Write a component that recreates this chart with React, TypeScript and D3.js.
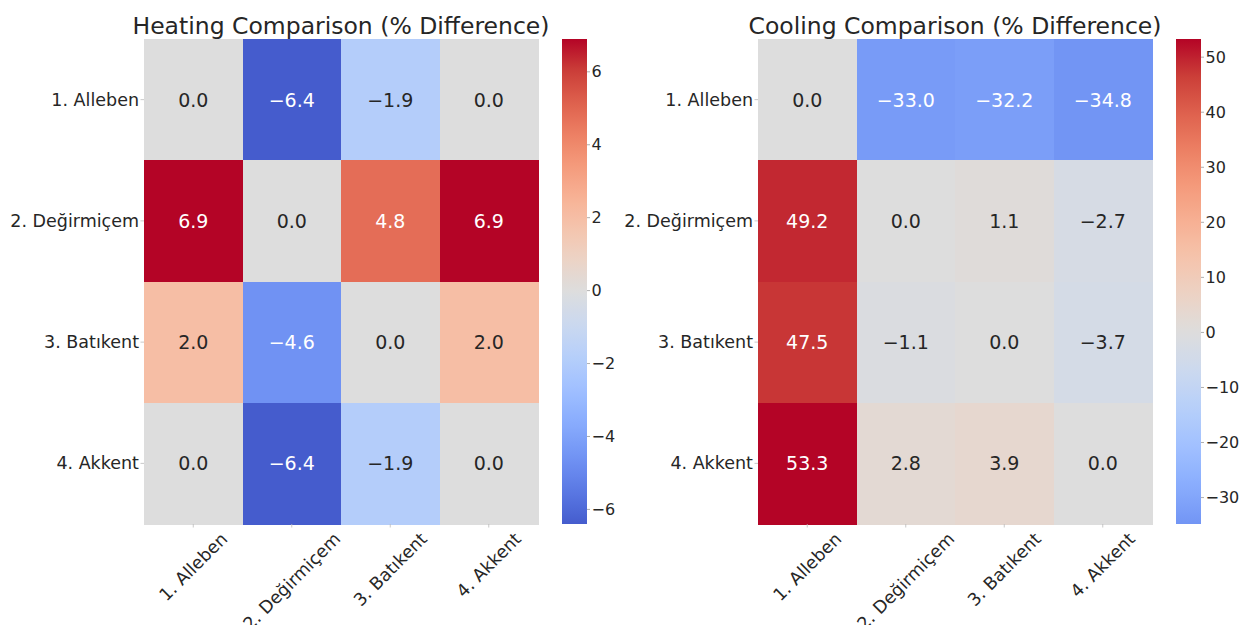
import * as d3 from "d3";
import { useEffect, useRef } from "react";

const stations = ["1. Alleben", "2. Değirmiçem", "3. Batıkent", "4. Akkent"];

// rows = station on y axis, columns = station on x axis
const heating = [
  [0.0, -6.4, -1.9, 0.0],
  [6.9, 0.0, 4.8, 6.9],
  [2.0, -4.6, 0.0, 2.0],
  [0.0, -6.4, -1.9, 0.0],
];
const cooling = [
  [0.0, -33.0, -32.2, -34.8],
  [49.2, 0.0, 1.1, -2.7],
  [47.5, -1.1, 0.0, -3.7],
  [53.3, 2.8, 3.9, 0.0],
];
const heatingTicks = [-6, -4, -2, 0, 2, 4, 6];
const coolingTicks = [-30, -20, -10, 0, 10, 20, 30, 40, 50];

// matplotlib coolwarm (Moreland), 17 control points
const coolwarmStops = [
  "rgb(59,76,192)", "rgb(77,104,215)", "rgb(98,130,234)", "rgb(119,154,247)",
  "rgb(141,176,254)", "rgb(163,194,255)", "rgb(184,208,249)", "rgb(204,217,238)",
  "rgb(221,221,221)", "rgb(236,211,197)", "rgb(245,196,173)", "rgb(247,177,148)",
  "rgb(244,154,123)", "rgb(236,127,99)", "rgb(222,96,77)", "rgb(203,62,56)",
  "rgb(180,4,38)",
];
const coolwarm = d3.piecewise(d3.interpolateRgb, coolwarmStops);

const FONT = "DejaVu Sans, sans-serif";
const INK = "#262626";
const minus = (s: string) => s.replace("-", "\u2212");

const luminance = (c: string) => {
  const { r, g, b } = d3.rgb(c);
  const lin = (v: number) => {
    const x = v / 255;
    return x <= 0.03928 ? x / 12.92 : Math.pow((x + 0.055) / 1.055, 2.4);
  };
  return 0.2126 * lin(r) + 0.7152 * lin(g) + 0.0722 * lin(b);
};

const panels = [
  { id: "heat", title: "Heating Comparison (% Difference)", data: heating, ticks: heatingTicks, x0: 144, x1: 538, cb0: 562 },
  { id: "cool", title: "Cooling Comparison (% Difference)", data: cooling, ticks: coolingTicks, x0: 758, x1: 1152, cb0: 1176 },
];

const App = () => {
  const ref = useRef<SVGSVGElement>(null);

  useEffect(() => {
    const svg = d3.select(ref.current);
    svg.selectAll("*").remove();
    const y0 = 39, y1 = 524, cbW = 25;

    panels.forEach(p => {
      const flat = p.data.flat();
      const [vmin, vmax] = d3.extent(flat) as [number, number];
      // seaborn center=0: symmetric range for colour lookup
      const vr = Math.max(Math.abs(vmin), Math.abs(vmax));
      const color = (v: number) => coolwarm(0.5 + v / (2 * vr));

      const x = d3.scaleBand().domain(stations).range([p.x0, p.x1]);
      const y = d3.scaleBand().domain(stations).range([y0, y1]);
      const g = svg.append("g");

      // cells
      p.data.forEach((row, i) => {
        row.forEach((v, j) => {
          const c = color(v);
          g.append("rect")
            .attr("x", x(stations[j])!)
            .attr("y", y(stations[i])!)
            .attr("width", x.bandwidth() + 0.5)
            .attr("height", y.bandwidth() + 0.5)
            .attr("fill", c)
            .attr("shape-rendering", "crispEdges");
          g.append("text")
            .attr("x", x(stations[j])! + x.bandwidth() / 2)
            .attr("y", y(stations[i])! + y.bandwidth() / 2)
            .attr("text-anchor", "middle")
            .attr("dominant-baseline", "central")
            .attr("font-family", FONT)
            .attr("font-size", 19)
            .attr("fill", luminance(c) > 0.408 ? INK : "#ffffff")
            .text(minus(v.toFixed(1)));
        });
      });

      // y axis
      stations.forEach(s => {
        const cy = y(s)! + y.bandwidth() / 2;
        g.append("line").attr("x1", p.x0 - 3.5).attr("x2", p.x0).attr("y1", cy).attr("y2", cy)
          .attr("stroke", "#bbbbbb").attr("stroke-width", 0.8);
        g.append("text")
          .attr("x", p.x0 - 5)
          .attr("y", cy)
          .attr("text-anchor", "end")
          .attr("dominant-baseline", "central")
          .attr("font-family", FONT)
          .attr("font-size", 17.5)
          .attr("fill", INK)
          .text(s);
      });

      // x axis, rotated 45 with centred bbox
      stations.forEach(s => {
        const cx = x(s)! + x.bandwidth() / 2;
        g.append("line").attr("x1", cx).attr("x2", cx).attr("y1", y1).attr("y2", y1 + 3.5)
          .attr("stroke", "#bbbbbb").attr("stroke-width", 0.8);
        const t = g.append("text")
          .attr("text-anchor", "middle")
          .attr("dominant-baseline", "central")
          .attr("font-family", FONT)
          .attr("font-size", 17.5)
          .attr("fill", INK)
          .text(s);
        const w = (t.node() as SVGTextElement).getComputedTextLength();
        const h = 17.5 * 1.1;
        const top = y1 + 5;
        const cy = top + ((w + h) * Math.SQRT1_2) / 2;
        t.attr("transform", `translate(${cx},${cy}) rotate(-45)`);
      });

      // title
      g.append("text")
        .attr("x", (p.x0 + p.x1) / 2)
        .attr("y", 34)
        .attr("text-anchor", "middle")
        .attr("font-family", FONT)
        .attr("font-size", 23.5)
        .attr("fill", INK)
        .text(p.title);

      // colorbar
      const gradId = `grad-${p.id}`;
      const grad = svg.append("defs").append("linearGradient")
        .attr("id", gradId).attr("x1", 0).attr("x2", 0).attr("y1", 1).attr("y2", 0);
      d3.range(0, 1.0001, 0.02).forEach(f => {
        grad.append("stop").attr("offset", f).attr("stop-color", color(vmin + f * (vmax - vmin)));
      });
      g.append("rect")
        .attr("x", p.cb0).attr("y", y0)
        .attr("width", cbW).attr("height", y1 - y0)
        .attr("fill", `url(#${gradId})`);

      const cs = d3.scaleLinear().domain([vmin, vmax]).range([y1, y0]);
      p.ticks.forEach(tv => {
        const ty = cs(tv);
        g.append("line").attr("x1", p.cb0 + cbW).attr("x2", p.cb0 + cbW + 3)
          .attr("y1", ty).attr("y2", ty).attr("stroke", "#999999").attr("stroke-width", 0.8);
        g.append("text")
          .attr("x", p.cb0 + cbW + 4.5)
          .attr("y", ty)
          .attr("dominant-baseline", "central")
          .attr("font-family", FONT)
          .attr("font-size", 16)
          .attr("fill", INK)
          .text(minus(String(tv)));
      });
    });
  }, []);

  return (
    <svg
      ref={ref}
      width={1239}
      height={625}
      style={{ position: "absolute", left: 0, top: 0, background: "#ffffff" }}
    ></svg>
  );
};

export default App;
